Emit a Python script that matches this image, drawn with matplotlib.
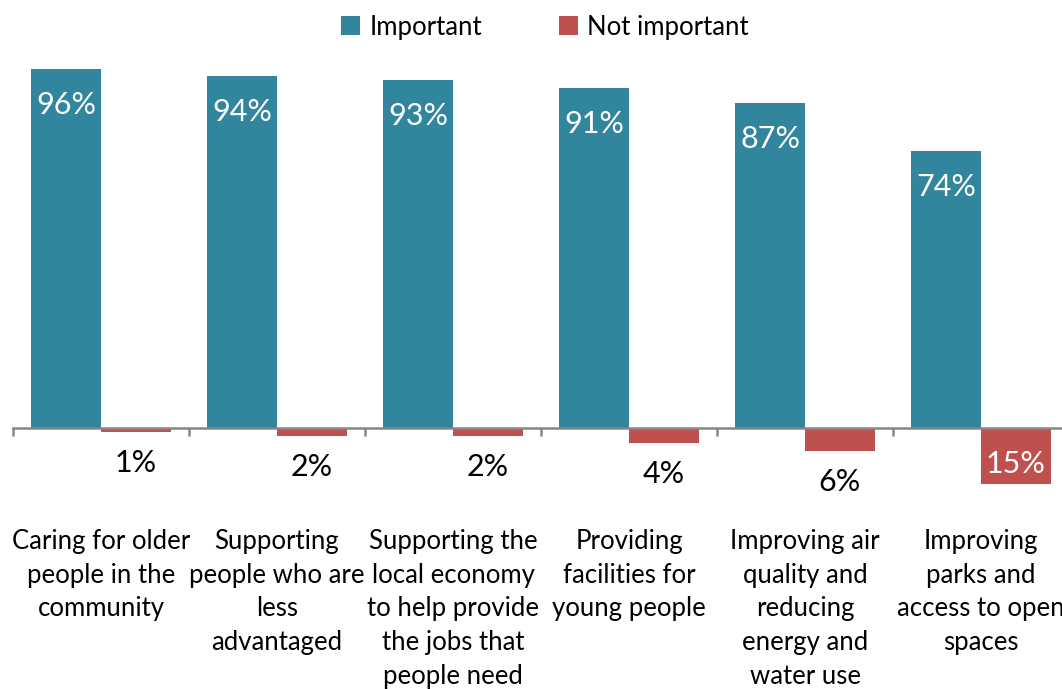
import matplotlib
matplotlib.use("Agg")
import matplotlib.pyplot as plt
import numpy as np

categories = [
    "Caring for older\npeople in the\ncommunity",
    "Supporting\npeople who are\nless\nadvantaged",
    "Supporting the\nlocal economy\nto help provide\nthe jobs that\npeople need",
    "Providing\nfacilities for\nyoung people",
    "Improving air\nquality and\nreducing\nenergy and\nwater use",
    "Improving\nparks and\naccess to open\nspaces",
]
important = [96, 94, 93, 91, 87, 74]
not_important = [1, 2, 2, 4, 6, 15]
series_names = ["Important", "Not important"]

TEAL = "#31859C"
RED = "#C0504D"
FONT = ["Lato", "DejaVu Sans"]
plt.rcParams["font.family"] = FONT

W, H = 1062, 689
fig = plt.figure(figsize=(W / 100, H / 100), dpi=100)
left_px, right_px = 13, 1069
top_px, bot_px = 54, 503
ax = fig.add_axes([left_px / W, 1 - bot_px / H, (right_px - left_px) / W, (bot_px - top_px) / H])
ax.set_xlim(-0.5, len(categories) - 0.5)
ax.set_ylim(-20, 100)

x = np.arange(len(categories))
bw = 70 / 176
b1 = ax.bar(x - bw / 2, important, bw, color=TEAL, label=series_names[0], zorder=2)
b2 = ax.bar(x + bw / 2, [-v for v in not_important], bw, color=RED, label=series_names[1], zorder=2)

for xi, v in zip(x, important):
    ax.annotate(f"{v}%", (xi - bw / 2, v), xytext=(0, -36 * 0.72), textcoords="offset points",
                ha="center", va="center", color="white", fontsize=22)
for xi, v in zip(x, not_important):
    if v >= 10:
        ax.annotate(f"{v}%", (xi + bw / 2, -v), xytext=(0, 20 * 0.72), textcoords="offset points",
                    ha="center", va="center", color="white", fontsize=22)
    else:
        ax.annotate(f"{v}%", (xi + bw / 2, -v), xytext=(0, -31 * 0.72), textcoords="offset points",
                    ha="center", va="center", color="black", fontsize=22)

# category labels
for xi, lab in zip(x, categories):
    ax.annotate(lab, (xi, 0), xytext=(0, -(529 - 428) * 0.72), textcoords="offset points",
                ha="center", va="top", fontsize=18.5, linespacing=1.43, color="black",
                annotation_clip=False)

for s in ["top", "right", "left"]:
    ax.spines[s].set_visible(False)
ax.spines["bottom"].set_position(("data", 0))
ax.spines["bottom"].set_color("#868686")
ax.spines["bottom"].set_linewidth(1.8)
ax.set_yticks([])
ax.set_xticks(np.arange(-0.5, len(categories), 1.0))
ax.set_xticklabels([])
ax.tick_params(axis="x", direction="out", length=6, width=1.8, color="#868686")

fig.legend(handles=[b1, b2], labels=series_names, loc="center", bbox_to_anchor=(545 / W, 1 - 27 / H),
           ncol=2, frameon=False, fontsize=18.5, handlelength=0.75, handleheight=0.75,
           handletextpad=0.35, columnspacing=3.0, borderaxespad=0)

fig.savefig("out.png", dpi=100)
